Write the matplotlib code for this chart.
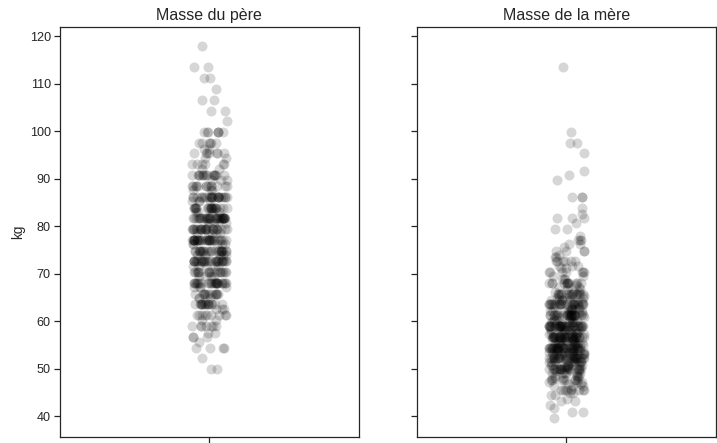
import numpy as np
import matplotlib
matplotlib.use("Agg")
import matplotlib.pyplot as plt
import seaborn as sns

# masses (kg), with how many points sit at each value
pere_kg = [49.9, 52.2, 54.4, 55.6, 56.7, 57.6, 59.0, 60.3, 61.2, 62.6, 63.5, 64.9,
           65.8, 67.1, 68.0, 69.4, 70.3, 71.7, 72.6, 73.9, 74.8, 76.2, 77.1, 78.5,
           79.4, 80.7, 81.6, 83.0, 83.9, 85.3, 86.2, 87.5, 88.5, 89.8, 90.7, 92.1,
           93.0, 94.3, 95.3, 96.2, 97.5, 99.8, 102.1, 104.3, 106.6, 108.9, 111.1,
           113.4, 117.9]
pere_n = [2, 1, 4, 1, 3, 2, 7, 2, 9, 3, 16, 3,
          13, 4, 26, 4, 18, 5, 30, 5, 25, 5, 32, 5,
          25, 5, 34, 4, 22, 4, 24, 3, 13, 3, 15, 2,
          6, 2, 7, 2, 6, 7, 1, 2, 2, 1, 2,
          2, 1]

mere_kg = [39.5, 40.8, 41.7, 42.3, 43.1, 43.5, 44.5, 44.9, 45.4, 45.8, 46.3, 46.7,
           47.2, 47.6, 48.1, 48.5, 49.0, 49.4, 49.9, 50.3, 50.8, 51.3, 51.7, 52.2,
           52.6, 53.1, 53.5, 54.0, 54.4, 54.9, 55.3, 55.8, 56.2, 56.7, 57.2, 57.6,
           58.1, 58.5, 59.0, 59.4, 59.9, 60.3, 60.8, 61.2, 61.7, 62.1, 62.6, 63.0,
           63.5, 64.0, 64.4, 64.9, 65.3, 65.8, 66.2, 66.7, 67.1, 67.6, 68.0, 68.9,
           69.4, 70.3, 71.2, 71.7, 72.6, 73.5, 73.9, 74.8, 75.7, 76.2, 77.1, 78.0,
           79.4, 80.7, 81.6, 82.6, 83.9, 86.2, 89.8, 90.7, 91.6, 95.3, 97.5, 99.8,
           113.4]
mere_n = [1, 2, 1, 1, 2, 1, 2, 2, 8, 1, 3, 2,
          3, 8, 4, 4, 6, 3, 18, 5, 8, 6, 6, 24,
          7, 7, 10, 6, 32, 6, 8, 7, 6, 30, 7, 6,
          8, 4, 32, 4, 7, 5, 4, 24, 5, 5, 6, 3,
          24, 3, 5, 3, 3, 15, 3, 2, 3, 1, 12, 3,
          2, 7, 2, 3, 6, 2, 1, 4, 1, 2, 3, 1,
          2, 1, 3, 1, 1, 3, 1, 1, 1, 1, 2, 1,
          1]

titres = ["Masse du père", "Masse de la mère"]

sns.set_theme(style="ticks")
plt.rcParams["font.family"] = ["Liberation Sans", "DejaVu Sans"]

np.random.seed(3)
fig, axes = plt.subplots(1, 2, sharey=True, figsize=(717 / 72, 443 / 72), dpi=72)
fig.subplots_adjust(left=0.084, right=0.998, top=0.939, bottom=0.0135, wspace=0.197)

series = [np.repeat(pere_kg, pere_n), np.repeat(mere_kg, mere_n)]
for ax, vals, titre in zip(axes, series, titres):
    sns.stripplot(y=vals, ax=ax, color="black", alpha=0.16, size=10,
                  jitter=0.06, linewidth=0)
    ax.set_title(titre, fontsize=16, pad=7)
    ax.set_xlim(-0.5, 0.5)
    ax.set_xticks([0])
    ax.set_xticklabels([""])
    ax.tick_params(labelsize=12.6)

axes[0].set_ylabel("kg", fontsize=13.5)
axes[1].set_ylabel("")
axes[0].set_ylim(35.6, 121.9)
axes[0].set_yticks(range(40, 121, 10))

fig.savefig("out.png", dpi=72)
